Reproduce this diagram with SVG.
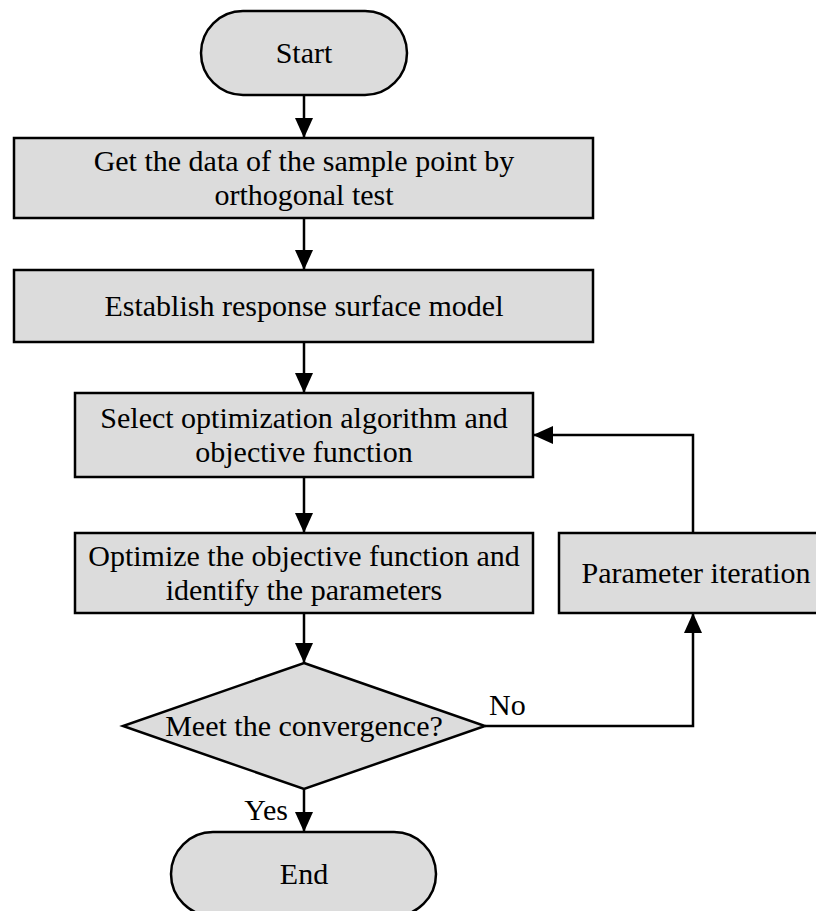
<svg xmlns="http://www.w3.org/2000/svg" width="816" height="911" viewBox="0 0 816 911">
<style>
  .box { fill: #dcdcdc; stroke: #000; stroke-width: 2.5; }
  .lbl { font-family: "Liberation Serif", "Times New Roman", serif; font-size: 30px; fill: #000; text-anchor: middle; }
  .lbl2 { font-family: "Liberation Serif", "Times New Roman", serif; font-size: 30px; fill: #000; }
  .edge { fill: none; stroke: #000; stroke-width: 2.5; }
</style>
<defs>
  <marker id="arr" markerUnits="userSpaceOnUse" markerWidth="20" markerHeight="20" viewBox="0 0 20 20" refX="20" refY="10" orient="auto">
    <path d="M0,1 L20,10 L0,19 Z" fill="#000"/>
  </marker>
</defs>
<rect width="816" height="911" fill="#fff"/>

<g id="edges">
  <line class="edge" x1="304" y1="95" x2="304" y2="138" marker-end="url(#arr)"/>
  <line class="edge" x1="304" y1="218" x2="304" y2="270" marker-end="url(#arr)"/>
  <line class="edge" x1="304" y1="342" x2="304" y2="393" marker-end="url(#arr)"/>
  <line class="edge" x1="304" y1="477" x2="304" y2="533" marker-end="url(#arr)"/>
  <line class="edge" x1="304" y1="613" x2="304" y2="663" marker-end="url(#arr)"/>
  <line class="edge" x1="304" y1="789" x2="304" y2="832" marker-end="url(#arr)"/>
  <polyline class="edge" points="485,726 693,726 693,613" marker-end="url(#arr)"/>
  <polyline class="edge" points="693,533 693,435 533,435" marker-end="url(#arr)"/>
  <text class="lbl2" x="489" y="715">No</text>
  <text class="lbl2" x="288" y="820" text-anchor="end">Yes</text>
</g>

<g id="start">
  <rect class="box" x="201" y="11" width="206" height="84" rx="42" ry="42"/>
  <text class="lbl" x="304" y="63">Start</text>
</g>

<g id="sample">
  <rect class="box" x="14" y="138" width="579" height="80"/>
  <text class="lbl" x="304" y="171">Get the data of the sample point by</text>
  <text class="lbl" x="304" y="205">orthogonal test</text>
</g>

<g id="rsm">
  <rect class="box" x="14" y="270" width="579" height="72"/>
  <text class="lbl" x="304" y="316">Establish response surface model</text>
</g>

<g id="select">
  <rect class="box" x="75" y="393" width="458" height="84"/>
  <text class="lbl" x="304" y="428">Select optimization algorithm and</text>
  <text class="lbl" x="304" y="462">objective function</text>
</g>

<g id="optimize">
  <rect class="box" x="75" y="533" width="458" height="80"/>
  <text class="lbl" x="304" y="566">Optimize the objective function and</text>
  <text class="lbl" x="304" y="600">identify the parameters</text>
</g>

<g id="iteration">
  <rect class="box" x="559" y="533" width="280" height="80"/>
  <text class="lbl" x="696" y="583">Parameter iteration</text>
</g>

<g id="decision">
  <polygon class="box" points="304,663 485,726 304,789 123,726"/>
  <text class="lbl" x="304" y="736">Meet the convergence?</text>
</g>

<g id="end">
  <rect class="box" x="171" y="832" width="265" height="84" rx="42" ry="42"/>
  <text class="lbl" x="304" y="884">End</text>
</g>
</svg>
